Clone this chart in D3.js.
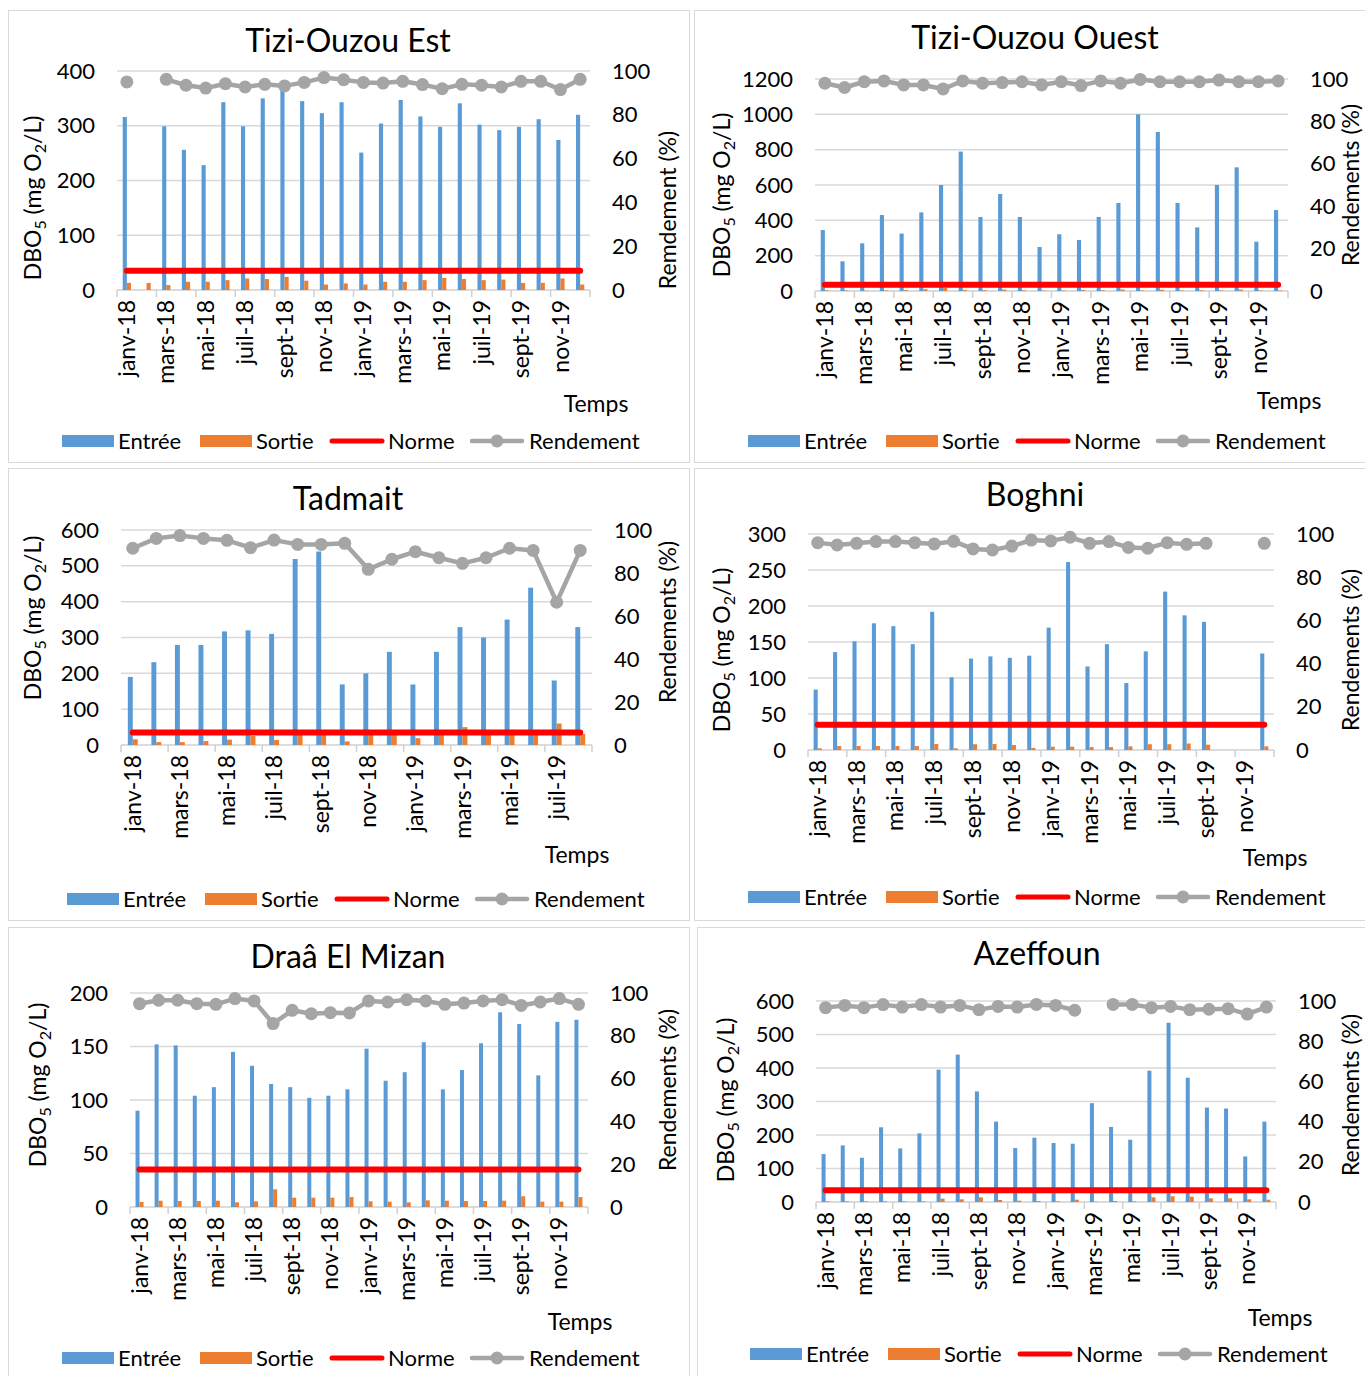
<!DOCTYPE html>
<html>
<head>
<meta charset="utf-8">
<script src="https://cdn.jsdelivr.net/npm/d3@7"></script>
<style>
  html, body { margin: 0; padding: 0; background: #fff; }
  svg { display: block; }
  text { font-family: Lato, "Open Sans", sans-serif; fill: #000; }
</style>
</head>
<body>
<svg id="chart" width="1365" height="1376"></svg>
<script>
// Months (labels shown every other month)
const months = ["janv-18","févr-18","mars-18","avr-18","mai-18","juin-18","juil-18","août-18","sept-18","oct-18","nov-18","déc-18",
                "janv-19","févr-19","mars-19","avr-19","mai-19","juin-19","juil-19","août-19","sept-19","oct-19","nov-19","déc-19"];
const monthsTadmait = months.slice(0, 20);

// DBO5 discharge standard (mg O2/L)
const norme = 35;

// Tizi-Ouzou Est
const estEntree = [316,null,299,256,228,343,299,350,365,345,323,343,251,304,347,317,298,341,302,292,298,312,274,320];
const estSortie = [13,13,9,15,15,18,21,20,24,17,10,12,10,15,15,18,22,20,18,19,13,13,21,10];
const estRendement = [95.0,null,96.2,93.5,92.2,94.2,92.7,93.9,93.2,94.8,97.0,96.0,94.8,94.5,95.3,93.8,91.9,93.9,93.5,92.7,95.3,95.3,91.5,96.2];

// Tizi-Ouzou Ouest
const ouestEntree = [345,168,270,430,325,445,600,789,419,549,419,249,321,289,419,498,1000,900,498,360,600,700,279,458];
const ouestSortie = [4,3,2,3,5,10,18,6,5,8,4,3,3,6,4,8,3,7,3,4,3,8,3,3];
const ouestRendement = [98.0,96.0,98.7,99.1,97.2,97.2,95.3,99.1,98.0,98.3,98.7,97.2,98.7,96.9,99.1,98.0,99.8,98.7,98.7,98.7,99.5,98.7,98.7,99.1];

// Tadmait (janv-18 .. août-19)
const tadEntree = [190,231,279,279,317,320,310,519,540,169,200,260,169,260,329,300,350,439,180,329];
const tadSortie = [16,8,8,11,15,25,14,32,33,10,28,30,19,30,50,30,32,30,60,31];
const tadRendement = [91.5,96.1,97.4,96.1,95.2,91.8,95.3,93.3,93.3,93.8,81.7,86.4,89.9,87.1,84.5,87.1,91.5,90.5,66.4,90.5];

// Boghni
const boghEntree = [84,136,151,176,172,147,192,101,127,130,128,131,170,261,116,147,93,137,220,187,178,null,null,134];
const boghSortie = [2.3,5.5,5.5,5.5,5.5,5.5,8.3,2.3,8,8.3,7,2.8,4.6,4.6,4,4,5,8,8,9,7.4,null,null,5];
const boghRendement = [96.0,94.9,95.7,96.5,96.5,96.0,95.4,96.6,93.1,92.6,94.4,97.2,96.8,98.5,95.7,96.5,93.8,93.4,96.0,95.2,95.7,null,null,95.7];

// Draâ El Mizan
const draaEntree = [90,152,151,104,112,145,132,115,112,102,104,110,148,118,126,154,110,128,153,182,171,123,173,175];
const draaSortie = [4.7,5.9,5.6,5.6,5.9,4.4,5.3,16.5,8.7,8.7,8.7,9.3,5.3,5,4.4,6.2,5.9,5.6,5.6,5.9,10,5,5,9.3];
const draaRendement = [95.0,96.6,96.6,95.0,94.7,97.4,96.3,85.7,91.9,90.3,90.8,90.7,96.3,95.8,96.9,96.3,94.7,95.3,96.3,96.9,94.2,95.8,97.4,94.7];

// Azeffoun
const azeEntree = [143,169,132,223,160,205,395,440,330,240,161,192,176,174,295,224,186,392,535,371,282,279,136,240];
const azeSortie = [2,2,2,2,2,2,10,8,14,6,4,3,2,7,1,3,2,14,17,16,11,11,8,7];
const azeRendement = [96.7,97.8,96.7,98.2,97.0,98.2,97.0,97.8,95.7,97.3,97.0,98.3,97.8,95.4,null,98.3,98.3,96.7,97.3,95.7,95.9,96.2,93.5,97.0];

const colors = { entree: "#5B9BD5", sortie: "#ED7D31", norme: "#FF0000", rend: "#A5A5A5", grid: "#D9D9D9" };

// Panel layout: frame, plot area and label anchors
const panels = [
  { title: "Tizi-Ouzou Est", cats: months, entree: estEntree, sortie: estSortie, rend: estRendement,
    yMax: 400, yStep: 100, rightTitle: "Remdement (%)",
    box: [8, 10, 681, 452], plot: [117, 71, 590, 290], titlePos: [348, 52],
    leftTitle: [33, 198], rightTitlePos: [668, 210], temps: [596, 404], legend: [62, 441] },
  { title: "Tizi-Ouzou Ouest", cats: months, entree: ouestEntree, sortie: ouestSortie, rend: ouestRendement,
    yMax: 1200, yStep: 200, rightTitle: "Rendements (%)",
    box: [694, 10, 680, 452], plot: [815, 79, 1288, 291], titlePos: [1035, 49],
    leftTitle: [722, 195], rightTitlePos: [1351, 185], temps: [1289, 401], legend: [748, 441] },
  { title: "Tadmait", cats: monthsTadmait, entree: tadEntree, sortie: tadSortie, rend: tadRendement,
    yMax: 600, yStep: 100, rightTitle: "Rendements (%)",
    box: [8, 468, 681, 452], plot: [121, 530, 592, 745], titlePos: [348, 510],
    leftTitle: [33, 618], rightTitlePos: [668, 622], temps: [577, 855], legend: [67, 899] },
  { title: "Boghni", cats: months, entree: boghEntree, sortie: boghSortie, rend: boghRendement,
    yMax: 300, yStep: 50, rightTitle: "Rendements (%)",
    box: [694, 468, 680, 452], plot: [808, 534, 1274, 750], titlePos: [1035, 506],
    leftTitle: [722, 650], rightTitlePos: [1351, 650], temps: [1275, 858], legend: [748, 897] },
  { title: "Draâ El Mizan", cats: months, entree: draaEntree, sortie: draaSortie, rend: draaRendement,
    yMax: 200, yStep: 50, rightTitle: "Rendements (%)",
    box: [8, 927, 681, 460], plot: [130, 993, 588, 1207], titlePos: [348, 968],
    leftTitle: [38, 1085], rightTitlePos: [668, 1090], temps: [580, 1322], legend: [62, 1358] },
  { title: "Azeffoun", cats: months, entree: azeEntree, sortie: azeSortie, rend: azeRendement,
    yMax: 600, yStep: 100, rightTitle: "Rendements (%)",
    box: [697, 927, 680, 460], plot: [816, 1001, 1276, 1202], titlePos: [1037, 965],
    leftTitle: [726, 1100], rightTitlePos: [1351, 1095], temps: [1280, 1318], legend: [750, 1354] }
];

const svg = d3.select("#chart");

function dboTitle(sel) {
  // DBO5 (mg O2/L) with subscripts
  sel.append("tspan").text("DBO");
  sel.append("tspan").attr("dy", 5).attr("font-size", "16px").text("5");
  sel.append("tspan").attr("dy", -5).text(" (mg O");
  sel.append("tspan").attr("dy", 5).attr("font-size", "16px").text("2");
  sel.append("tspan").attr("dy", -5).text("/L)");
}

panels.forEach(p => {
  const g = svg.append("g");
  const [bx, by, bw, bh] = p.box;
  const [x0, y0, x1, y1] = p.plot;
  const n = p.cats.length;

  g.append("rect").attr("x", bx + 0.5).attr("y", by + 0.5).attr("width", bw).attr("height", bh)
    .attr("fill", "#fff").attr("stroke", "#D9D9D9").attr("stroke-width", 1);

  const x = d3.scaleBand().domain(p.cats).range([x0, x1]).padding(0);
  const yL = d3.scaleLinear().domain([0, p.yMax]).range([y1, y0]);
  const yR = d3.scaleLinear().domain([0, 100]).range([y1, y0]);
  const cx = c => x(c) + x.bandwidth() / 2;
  const barW = x.bandwidth() * 0.21;

  // horizontal gridlines
  const ticksL = d3.range(0, p.yMax + 1, p.yStep);
  g.append("g").selectAll("line").data(ticksL.filter(t => t > 0)).join("line")
    .attr("x1", x0).attr("x2", x1).attr("y1", d => yL(d)).attr("y2", d => yL(d))
    .attr("stroke", colors.grid).attr("stroke-width", 1.5);

  // left axis
  const axL = d3.axisLeft(yL).tickValues(ticksL).tickFormat(d3.format("d")).tickSize(0).tickPadding(22);
  const gL = g.append("g").attr("transform", `translate(${x0},0)`).call(axL);
  gL.select(".domain").remove();
  gL.selectAll("text").attr("font-size", "22px").attr("font-family", "Lato").attr("fill", "#000");

  // right axis
  const axR = d3.axisRight(yR).tickValues(d3.range(0, 101, 20)).tickFormat(d3.format("d")).tickSize(0).tickPadding(22);
  const gR = g.append("g").attr("transform", `translate(${x1},0)`).call(axR);
  gR.select(".domain").remove();
  gR.selectAll("text").attr("font-size", "22px").attr("font-family", "Lato").attr("fill", "#000");

  // category axis: ticks every two months
  const gB = g.append("g").attr("transform", `translate(0,${y1})`);
  gB.append("line").attr("x1", x0).attr("x2", x1).attr("stroke", "#D0D0D0").attr("stroke-width", 1.5);
  const boundaries = d3.range(0, n + 1, 2).map(i => x0 + i * x.bandwidth());
  gB.selectAll("line.tk").data(boundaries).join("line").attr("class", "tk")
    .attr("x1", d => d).attr("x2", d => d).attr("y1", 0).attr("y2", 7)
    .attr("stroke", "#D0D0D0").attr("stroke-width", 1.5);
  gB.selectAll("text").data(p.cats.filter((c, i) => i % 2 === 0)).join("text")
    .attr("transform", d => `translate(${cx(d)},10) rotate(-90)`)
    .attr("text-anchor", "end").attr("dy", "0.35em")
    .attr("font-size", "23px").text(d => d);

  // bars
  g.append("g").selectAll("rect").data(p.cats.map((c, i) => ({ c, v: p.entree[i] })).filter(d => d.v != null))
    .join("rect").attr("x", d => cx(d.c) - barW).attr("width", barW)
    .attr("y", d => yL(d.v)).attr("height", d => y1 - yL(d.v)).attr("fill", colors.entree);
  g.append("g").selectAll("rect").data(p.cats.map((c, i) => ({ c, v: p.sortie[i] })).filter(d => d.v != null))
    .join("rect").attr("x", d => cx(d.c)).attr("width", barW)
    .attr("y", d => yL(d.v)).attr("height", d => y1 - yL(d.v)).attr("fill", colors.sortie);

  // standard line
  const normeLine = d3.line().x(d => cx(d)).y(() => yL(norme));
  g.append("path").datum(p.cats).attr("d", normeLine)
    .attr("fill", "none").attr("stroke", colors.norme).attr("stroke-width", 6).attr("stroke-linecap", "round");

  // removal efficiency
  const rendData = p.cats.map((c, i) => ({ c, v: p.rend[i] }));
  const rLine = d3.line().defined(d => d.v != null).x(d => cx(d.c)).y(d => yR(d.v));
  g.append("path").datum(rendData).attr("d", rLine)
    .attr("fill", "none").attr("stroke", colors.rend).attr("stroke-width", 4.5).attr("stroke-linejoin", "round");
  g.append("g").selectAll("circle").data(rendData.filter(d => d.v != null)).join("circle")
    .attr("cx", d => cx(d.c)).attr("cy", d => yR(d.v)).attr("r", 6.5).attr("fill", colors.rend);

  // titles
  g.append("text").attr("x", p.titlePos[0]).attr("y", p.titlePos[1]).attr("text-anchor", "middle")
    .attr("font-size", "32px").text(p.title);
  const lt = g.append("text").attr("transform", `translate(${p.leftTitle[0]},${p.leftTitle[1]}) rotate(-90)`)
    .attr("text-anchor", "middle").attr("dy", "0.35em").attr("font-size", "23px");
  dboTitle(lt);
  g.append("text").attr("transform", `translate(${p.rightTitlePos[0]},${p.rightTitlePos[1]}) rotate(-90)`)
    .attr("text-anchor", "middle").attr("dy", "0.35em").attr("font-size", "23px").text(p.rightTitle);
  g.append("text").attr("x", p.temps[0]).attr("y", p.temps[1]).attr("text-anchor", "middle")
    .attr("dy", "0.35em").attr("font-size", "23px").text("Temps");

  // legend
  const [lx, ly] = p.legend;
  const lg = g.append("g");
  lg.append("rect").attr("x", lx).attr("y", ly - 6).attr("width", 52).attr("height", 12).attr("fill", colors.entree);
  lg.append("text").attr("x", lx + 56).attr("y", ly).attr("dy", "0.35em").attr("font-size", "22px").text("Entrée");
  lg.append("rect").attr("x", lx + 138).attr("y", ly - 6).attr("width", 52).attr("height", 12).attr("fill", colors.sortie);
  lg.append("text").attr("x", lx + 194).attr("y", ly).attr("dy", "0.35em").attr("font-size", "22px").text("Sortie");
  lg.append("line").attr("x1", lx + 270).attr("x2", lx + 320).attr("y1", ly).attr("y2", ly)
    .attr("stroke", colors.norme).attr("stroke-width", 5).attr("stroke-linecap", "round");
  lg.append("text").attr("x", lx + 326).attr("y", ly).attr("dy", "0.35em").attr("font-size", "22px").text("Norme");
  lg.append("line").attr("x1", lx + 410).attr("x2", lx + 460).attr("y1", ly).attr("y2", ly)
    .attr("stroke", colors.rend).attr("stroke-width", 4.5).attr("stroke-linecap", "round");
  lg.append("circle").attr("cx", lx + 435).attr("cy", ly).attr("r", 6.5).attr("fill", colors.rend);
  lg.append("text").attr("x", lx + 467).attr("y", ly).attr("dy", "0.35em").attr("font-size", "22px").text("Rendement");
});
</script>
</body>
</html>
